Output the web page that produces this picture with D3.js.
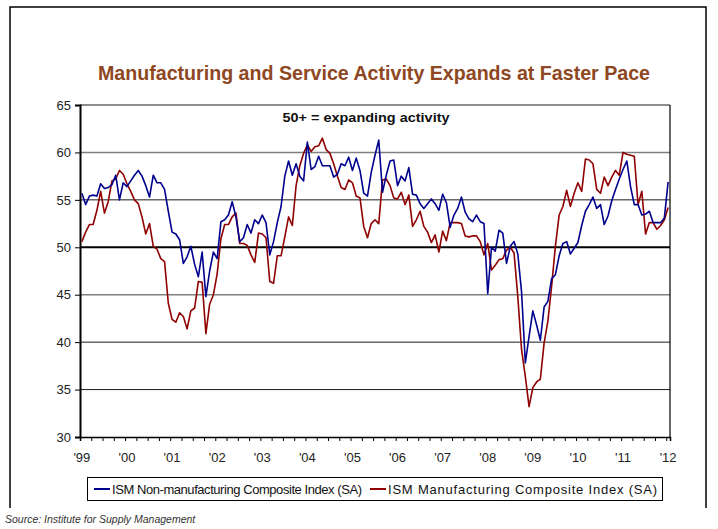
<!DOCTYPE html>
<html>
<head>
<meta charset="utf-8">
<script src="https://cdn.jsdelivr.net/npm/d3@7/dist/d3.min.js"></script>
<style>
  body { margin: 0; background: #fff; }
  svg { display: block; }
  text { font-family: "Liberation Sans", Arial, sans-serif; }
</style>
</head>
<body>
<svg id="chart" width="718" height="529"></svg>
<script>
// Monthly ISM composite indexes, Jan 1999 - Jan 2012
const yearLabels = ["'99","'00","'01","'02","'03","'04","'05","'06","'07","'08","'09","'10","'11","'12"];

const nonManufacturing = [
  55.7, 54.5, 55.4, 55.5, 55.4, 56.7, 56.2, 56.3, 56.6, 57.6, 55.0, 56.8, // 1999
  56.4, 57.0, 57.6, 58.1, 57.5, 56.5, 55.3, 57.6, 56.8, 56.8, 56.1, 53.8, // 2000
  51.6, 51.4, 50.8, 48.3, 49.0, 50.1, 48.2, 46.9, 49.5, 44.8, 47.5, 49.5, // 2001
  48.8, 52.7, 52.9, 53.4, 54.8, 53.2, 50.6, 51.0, 52.4, 51.5, 52.9, 52.5, // 2002
  53.4, 52.6, 49.2, 50.6, 52.6, 54.3, 57.5, 59.1, 57.6, 58.8, 57.5, 57.0, // 2003
  61.1, 58.2, 58.5, 59.6, 58.6, 58.6, 58.6, 57.4, 57.7, 58.8, 58.6, 59.5, // 2004
  58.1, 59.4, 58.1, 55.7, 55.4, 57.9, 59.7, 61.3, 55.8, 57.6, 59.1, 59.2, // 2005
  56.5, 57.5, 57.0, 58.4, 55.6, 55.5, 54.6, 54.1, 54.6, 55.1, 54.6, 53.9, // 2006
  55.6, 54.7, 52.1, 53.4, 54.1, 55.3, 53.7, 53.0, 52.7, 53.4, 52.7, 52.5, // 2007
  45.1, 50.0, 49.6, 51.8, 51.5, 48.3, 50.1, 50.6, 49.3, 45.3, 37.8, 40.6, // 2008
  43.3, 41.8, 40.2, 43.7, 44.3, 46.7, 47.1, 49.1, 50.4, 50.6, 49.3, 49.9, // 2009
  50.5, 52.3, 53.8, 54.5, 55.3, 54.1, 54.5, 52.4, 53.3, 54.9, 56.1, 57.2, // 2010
  58.2, 59.1, 56.4, 54.5, 54.5, 53.4, 53.5, 53.8, 52.6, 52.6, 52.6, 53.1, // 2011
  56.9                                                                    // 2012
];

const manufacturing = [
  50.6, 51.6, 52.4, 52.4, 53.9, 55.9, 53.6, 54.8, 57.0, 57.2, 58.1, 57.7, // 1999
  56.7, 55.9, 55.0, 54.6, 53.2, 51.4, 52.5, 50.1, 49.8, 48.8, 48.5, 44.1, // 2000
  42.4, 42.1, 43.1, 42.7, 41.4, 43.3, 43.6, 46.4, 46.3, 40.9, 44.0, 45.0, // 2001
  47.2, 50.9, 52.4, 52.4, 53.2, 53.6, 50.4, 50.4, 50.2, 49.2, 48.4, 51.5, // 2002
  51.4, 51.0, 46.4, 46.2, 49.1, 49.1, 51.1, 53.2, 52.3, 56.5, 58.6, 59.9, // 2003
  60.8, 60.1, 60.6, 60.7, 61.5, 60.3, 59.9, 58.8, 57.5, 56.3, 56.1, 57.1, // 2004
  56.8, 55.4, 55.2, 52.2, 51.0, 52.5, 52.9, 52.5, 57.1, 57.2, 56.5, 55.2, // 2005
  55.1, 55.8, 54.5, 55.5, 52.2, 52.9, 53.8, 52.2, 51.6, 50.5, 51.3, 49.5, // 2006
  51.7, 50.7, 52.6, 52.6, 52.6, 52.5, 51.2, 51.1, 51.2, 51.2, 50.6, 49.2, // 2007
  50.4, 47.6, 48.1, 48.7, 48.8, 49.7, 50.0, 49.4, 44.8, 39.2, 36.4, 33.2, // 2008
  35.2, 35.8, 36.1, 39.9, 42.2, 45.9, 50.1, 53.4, 54.3, 56.0, 54.3, 55.7, // 2009
  56.8, 55.9, 59.3, 59.2, 58.8, 56.1, 55.7, 57.4, 56.5, 57.4, 58.1, 57.6, // 2010
  60.0, 59.8, 59.7, 59.6, 54.5, 55.9, 51.4, 52.6, 52.6, 51.9, 52.3, 52.9, // 2011
  54.2                                                                    // 2012
];

const yTicks = [30, 35, 40, 45, 50, 55, 60, 65];
const seriesNames = [
  "ISM Non-manufacturing Composite Index (SA)",
  "ISM Manufacturing Composite Index (SA)"
];
const seriesColors = ["#00008f", "#8f0000"];

const svg = d3.select("#chart");
const plot = { left: 80, right: 670, top: 105, bottom: 437 };

// Category-style x axis: each month occupies one slot, points sit mid-slot
const nMonths = nonManufacturing.length;
const x = d3.scaleLinear().domain([-0.5, nMonths - 0.5]).range([plot.left, plot.right]);
const y = d3.scaleLinear().domain([30, 65]).range([plot.bottom, plot.top]);

// Outer frame
svg.append("path")
  .attr("d", "M10,508 L10,7 L706,7 L706,508")
  .attr("fill", "none").attr("stroke", "#000").attr("stroke-width", 1.5);

// Title
svg.append("text")
  .attr("x", 374).attr("y", 80)
  .attr("text-anchor", "middle")
  .attr("textLength", 552).attr("lengthAdjust", "spacingAndGlyphs")
  .style("font-size", "21px").style("font-weight", "bold")
  .style("fill", "#8e4722")
  .text("Manufacturing and Service Activity Expands at Faster Pace");

// Horizontal gridlines
const gridStyle = v => {
  if (v === 50) return { c: "#000", w: 2 };
  if (v === 60 || v === 45) return { c: "#7f7f7f", w: 1.6 };
  return { c: "#1a1a1a", w: 1 };
};
svg.append("g").selectAll("line")
  .data(yTicks.filter(v => v > 30))
  .join("line")
  .attr("x1", plot.left).attr("x2", plot.right)
  .attr("y1", d => y(d)).attr("y2", d => y(d))
  .attr("stroke", d => gridStyle(d).c)
  .attr("stroke-width", d => gridStyle(d).w);

// Right border of plot area
svg.append("line")
  .attr("x1", plot.right).attr("x2", plot.right)
  .attr("y1", plot.top).attr("y2", plot.bottom)
  .attr("stroke", "#000").attr("stroke-width", 1.2);

// Y axis
const yAxis = svg.append("g")
  .attr("transform", `translate(${plot.left},0)`)
  .call(d3.axisLeft(y).tickValues(yTicks).tickSize(5).tickPadding(4).tickFormat(d3.format("d")));
yAxis.select(".domain").attr("stroke", "#000").attr("stroke-width", 2);
yAxis.selectAll(".tick line").attr("stroke", "#000");
yAxis.selectAll("text").style("font-size", "13px").style("fill", "#222")
  .style("font-family", "'Liberation Sans', Arial, sans-serif");

// X axis: quarterly tick marks, labels each January
const quarterTicks = d3.range(-0.5, nMonths, 3);
const xAxis = svg.append("g")
  .attr("transform", `translate(0,${plot.bottom})`)
  .call(d3.axisBottom(x).tickValues(quarterTicks).tickSize(4).tickFormat(""));
xAxis.select(".domain").attr("stroke", "#000").attr("stroke-width", 1.5);
xAxis.selectAll(".tick line").attr("stroke", "#000");

svg.append("g").selectAll("text")
  .data(yearLabels)
  .join("text")
  .attr("x", (d, i) => x(i * 12))
  .attr("y", 462)
  .attr("text-anchor", "middle")
  .style("font-size", "13px").style("fill", "#222")
  .text(d => d);

// Annotation
svg.append("text")
  .attr("x", 366).attr("y", 122)
  .attr("text-anchor", "middle")
  .attr("textLength", 167).attr("lengthAdjust", "spacingAndGlyphs")
  .style("font-size", "12.5px").style("font-weight", "bold").style("fill", "#111")
  .text("50+ = expanding activity");

// Series lines
const line = d3.line().x((d, i) => x(i)).y(d => y(d));
[manufacturing, nonManufacturing].forEach((series, k) => {
  svg.append("path")
    .datum(series)
    .attr("fill", "none")
    .attr("stroke", k === 0 ? seriesColors[1] : seriesColors[0])
    .attr("stroke-width", 1.6)
    .attr("stroke-linejoin", "round")
    .attr("d", line);
});

// Legend
const legend = svg.append("g");
legend.append("rect")
  .attr("x", 87.5).attr("y", 477.5).attr("width", 575).attr("height", 23)
  .attr("fill", "#fff").attr("stroke", "#000").attr("stroke-width", 1);
const legendItems = [
  { x: 94, tx: 112, w: 250 },
  { x: 370, tx: 388, w: 269 }
];
legendItems.forEach((it, i) => {
  legend.append("line")
    .attr("x1", it.x).attr("x2", it.x + 16)
    .attr("y1", 489).attr("y2", 489)
    .attr("stroke", seriesColors[i]).attr("stroke-width", 2);
  legend.append("text")
    .attr("x", it.tx).attr("y", 494)
    .attr("textLength", it.w).attr("lengthAdjust", "spacing")
    .style("font-size", "13px").style("fill", "#111")
    .text(seriesNames[i]);
});

// Source note
svg.append("text")
  .attr("x", 5).attr("y", 523)
  .style("font-size", "10.5px").style("font-style", "italic").style("fill", "#333")
  .text("Source: Institute for Supply Management");
</script>
</body>
</html>
